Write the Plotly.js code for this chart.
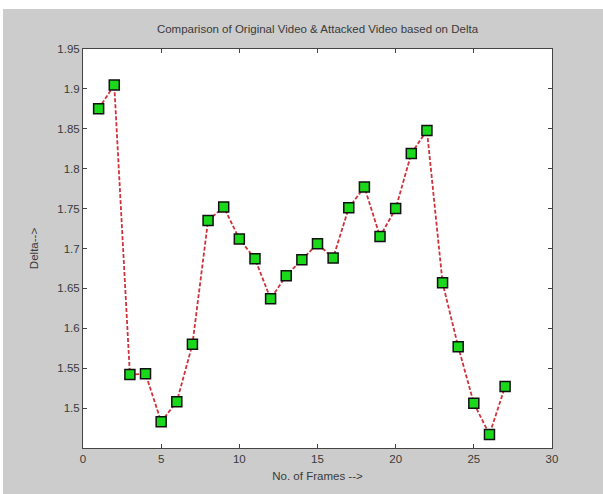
<!DOCTYPE html>
<html>
<head>
<meta charset="utf-8">
<script src="https://cdn.plot.ly/plotly-3.0.1.min.js"></script>
<style>
  html, body { margin: 0; padding: 0; background: #ffffff; }
  #chart { position: absolute; left: 3px; top: 9px; width: 600px; height: 485px; }
</style>
</head>
<body>
<div id="chart"></div>
<script>
const frames = [1,2,3,4,5,6,7,8,9,10,11,12,13,14,15,16,17,18,19,20,21,22,23,24,25,26,27];
const delta = [1.875,1.905,1.542,1.543,1.483,1.508,1.580,1.735,1.752,1.712,1.687,1.637,1.666,1.686,1.706,1.688,1.751,1.777,1.715,1.750,1.819,1.848,1.657,1.577,1.506,1.467,1.527];
const xTicks = [0,5,10,15,20,25,30];
const yTicks = [1.5,1.55,1.6,1.65,1.7,1.75,1.8,1.85,1.9,1.95];
const yTickText = ["1.5","1.55","1.6","1.65","1.7","1.75","1.8","1.85","1.9","1.95"];

const trace = {
  x: frames,
  y: delta,
  type: 'scatter',
  mode: 'lines+markers',
  line: { color: '#d0323c', width: 1.8, dash: '4px,2px' },
  marker: { symbol: 'square', size: 10, color: '#1ad81a', line: { color: '#111111', width: 1.5 } },
  hoverinfo: 'x+y'
};

const axisCommon = {
  showline: true, linecolor: '#444444', linewidth: 1, mirror: 'ticks',
  ticks: 'inside', ticklen: 4, tickcolor: '#444444', tickwidth: 1,
  showgrid: false, zeroline: false,
  tickfont: { family: 'Liberation Sans, Arial, sans-serif', size: 11.5, color: '#3a3a3a' }
};

const layout = {
  width: 600, height: 485,
  paper_bgcolor: '#cccccc', plot_bgcolor: '#ffffff',
  margin: { l: 80, r: 51, t: 40, b: 46 },
  showlegend: false,
  title: {
    text: 'Comparison of Original Video & Attacked Video based on Delta',
    font: { family: 'Liberation Sans, Arial, sans-serif', size: 11.5, color: '#3a3a3a' },
    x: 0.5, xref: 'paper', xanchor: 'center', y: 1, yref: 'container', yanchor: 'top', pad: { t: 16 }
  },
  xaxis: Object.assign({}, axisCommon, {
    range: [0, 30], tickvals: xTicks, ticktext: xTicks.map(String),
    title: { text: 'No. of Frames -->', standoff: 8,
      font: { family: 'Liberation Sans, Arial, sans-serif', size: 11.5, color: '#3a3a3a' } }
  }),
  yaxis: Object.assign({}, axisCommon, {
    range: [1.45, 1.95], tickvals: yTicks, ticktext: yTickText,
    title: { text: 'Delta-->', standoff: 16,
      font: { family: 'Liberation Sans, Arial, sans-serif', size: 11.5, color: '#3a3a3a' } }
  })
};

Plotly.newPlot('chart', [trace], layout, { displayModeBar: false, staticPlot: true });
</script>
</body>
</html>
